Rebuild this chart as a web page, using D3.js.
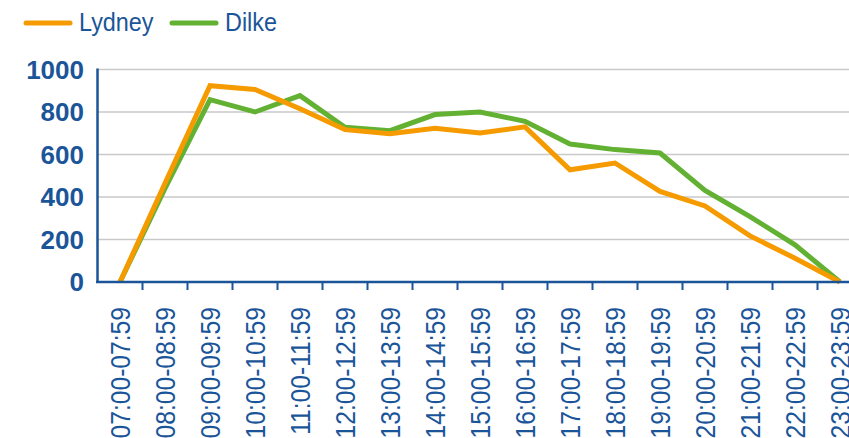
<html>
<head>
<style>
  body { margin: 0; background: white; }
  svg { display: block; }
</style>
<script src="https://cdn.jsdelivr.net/npm/d3@7"></script>
</head>
<body>
<svg id="main"></svg>
<script>
  const hours = ["07:00-07:59", "08:00-08:59", "09:00-09:59", "10:00-10:59", "11:00-11:59",
    "12:00-12:59", "13:00-13:59", "14:00-14:59", "15:00-15:59", "16:00-16:59", "17:00-17:59",
    "18:00-18:59", "19:00-19:59", "20:00-20:59", "21:00-21:59", "22:00-22:59", "23:00-23:59"]
  const lydney = [0, 465, 924, 906, 815, 717, 698, 723, 701, 730, 528, 560, 426, 358, 217, 112, 0]
  const dilke = [0, 440, 858, 800, 877, 728, 712, 788, 800, 756, 649, 623, 607, 431, 308, 175, 0]
  const yTicks = [0, 200, 400, 600, 800, 1000]

  const series = [
    {name: "Dilke", values: dilke, color: "#63b132"},
    {name: "Lydney", values: lydney, color: "#f59b00"}
  ]

  const width = 849, height = 438
  const blue = "#1b5599"
  const font = "'Liberation Sans', Arial, sans-serif"

  const svg = d3.select("#main").attr("width", width).attr("height", height)

  const x = d3.scaleBand().domain(hours).range([97.5, 862.5])
  const y = d3.scaleLinear().domain([0, 1000]).range([282, 69.5])

  // grid
  svg.append("g")
    .selectAll("line")
    .data(yTicks.filter(d => d > 0))
    .join("line")
    .attr("x1", 97).attr("x2", width)
    .attr("y1", d => y(d)).attr("y2", d => y(d))
    .attr("stroke", "#c9c9c9").attr("stroke-width", 1.5)

  // y labels
  svg.append("g")
    .selectAll("text")
    .data(yTicks)
    .join("text")
    .attr("x", 84)
    .attr("y", d => y(d))
    .attr("dy", "0.35em")
    .attr("text-anchor", "end")
    .attr("font-family", font)
    .attr("font-weight", "bold")
    .attr("font-size", 26)
    .attr("fill", blue)
    .text(d => d)

  // lines
  const line = d3.line()
    .x((d, i) => x(hours[i]) + x.bandwidth() / 2)
    .y(d => y(d))

  svg.append("g")
    .selectAll("path")
    .data(series)
    .join("path")
    .attr("fill", "none")
    .attr("stroke", d => d.color)
    .attr("stroke-width", 5)
    .attr("d", d => line(d.values))

  // axes
  svg.append("line")
    .attr("x1", 97.5).attr("x2", 97.5)
    .attr("y1", 68.5).attr("y2", 283)
    .attr("stroke", blue).attr("stroke-width", 2.5)
  svg.append("line")
    .attr("x1", 96).attr("x2", width)
    .attr("y1", 282).attr("y2", 282)
    .attr("stroke", blue).attr("stroke-width", 2.5)

  svg.append("g")
    .selectAll("line")
    .data(hours.slice(1))
    .join("line")
    .attr("x1", d => x(d)).attr("x2", d => x(d))
    .attr("y1", 282).attr("y2", 290)
    .attr("stroke", blue).attr("stroke-width", 2)

  // x labels (narrowed a bit, the original font is condensed)
  svg.append("g")
    .selectAll("text")
    .data(hours)
    .join("text")
    .attr("transform", d => `translate(${x(d) + x.bandwidth() / 2},307) rotate(-90) scale(0.88,1)`)
    .attr("dy", "0.37em")
    .attr("text-anchor", "end")
    .attr("font-family", font)
    .attr("font-size", 28)
    .attr("fill", blue)
    .text(d => d)

  // legend
  const legend = [
    {name: "Lydney", color: "#f59b00", x: 26},
    {name: "Dilke", color: "#63b132", x: 172}
  ]
  const lg = svg.append("g")
    .selectAll("g")
    .data(legend)
    .join("g")
    .attr("transform", d => `translate(${d.x},23)`)
  lg.append("line")
    .attr("x1", 0).attr("x2", 44)
    .attr("stroke", d => d.color)
    .attr("stroke-width", 5)
    .attr("stroke-linecap", "round")
  lg.append("text")
    .attr("transform", "translate(53,8) scale(0.9,1)")
    .attr("font-family", font)
    .attr("font-size", 26)
    .attr("fill", blue)
    .text(d => d.name)
</script>
</body>
</html>
